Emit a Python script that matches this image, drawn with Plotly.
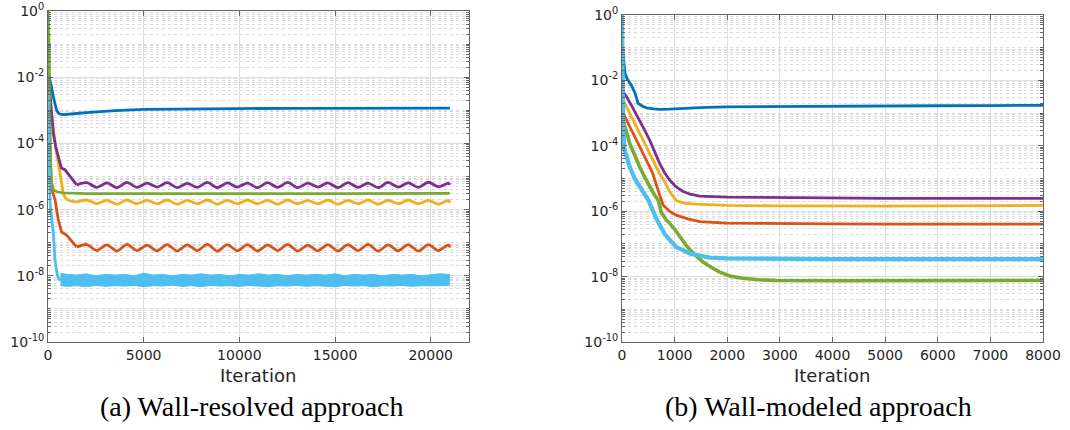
import plotly.graph_objects as go

# ---------------- colours (MATLAB default order) ----------------
C_BLUE = "#0072BD"
C_ORANGE = "#D95319"
C_YELLOW = "#EDB120"
C_PURPLE = "#7E2F8E"
C_GREEN = "#77AC30"
C_LBLUE = "#4DBEEE"

# ---------------- (a) wall-resolved data ----------------
wr_blue_x = [0, 100, 200, 280, 350, 450, 550, 650, 800, 1000, 1500, 2000, 2700, 3500, 5000,
             6500, 8000, 10000, 13000, 16000, 19000, 21000]
wr_blue_y = [1.6e-2, 9e-3, 4.5e-3, 2.5e-3, 1.6e-3, 1.0e-3, 8.2e-4, 7.6e-4, 7.4e-4, 7.5e-4, 8.0e-4,
             8.5e-4, 9.1e-4, 9.8e-4, 1.07e-3, 1.1e-3, 1.12e-3, 1.13e-3, 1.15e-3, 1.15e-3, 1.16e-3, 1.17e-3]

wr_orange_x = [0, 60, 120, 200, 365, 540, 710, 970, 1320, 1500]
wr_orange_y = [3e-3, 1e-4, 1e-5, 4e-6, 2e-6, 4.9e-7, 2.1e-7, 1.7e-7, 9.5e-8, 7.4e-8]

wr_yellow_x = [0, 50, 100, 200, 300, 400, 500, 600, 700, 800, 900, 1000, 1200, 1500]
wr_yellow_y = [5e-3, 2.5e-3, 1.5e-3, 6e-4, 2e-4, 8e-5, 3.5e-5, 1.5e-5, 6e-6, 3e-6, 2.3e-6, 2.0e-6,
               1.8e-6, 1.7e-6]

wr_purple_x = [0, 80, 150, 280, 400, 540, 700, 880, 1000, 1150, 1300, 1500]
wr_purple_y = [1.2e-2, 5e-3, 1.5e-3, 2e-4, 8e-5, 4e-5, 1.8e-5, 1.6e-5, 1.3e-5, 1e-5, 7.5e-6, 5.6e-6]

wr_green_x = [0, 60, 90, 120, 150, 200, 300, 500, 800, 2000, 5000, 10000, 15000, 21000]
wr_green_y = [1.0, 1e-1, 1e-3, 1e-4, 2e-5, 6e-6, 3.8e-6, 3.4e-6, 3.2e-6, 3.05e-6, 3.0e-6, 3.05e-6,
              3.05e-6, 3.1e-6]

wr_lblue_x = [0, 40, 80, 110, 200, 280, 365, 470, 560, 650]
wr_lblue_y = [3.3e-3, 2e-4, 1e-5, 1.5e-6, 5e-7, 1.9e-7, 3e-8, 1.2e-8, 8e-9, 7.5e-9]

# oscillating plateaus (peaks / troughs)
wr_osc_x = [1500, 2025, 2550, 3075, 3600, 4125, 4650, 5175, 5700, 6225, 6750, 7275, 7800, 8325,
            8850, 9375, 9900, 10425, 10950, 11475, 12000, 12525, 13050, 13575, 14100, 14625,
            15150, 15675, 16200, 16725, 17250, 17775, 18300, 18825, 19350, 19875, 20400, 20925,
            21000]
wr_purple_osc = [5.6e-6, 6.5e-6, 4.7e-6, 6.4e-6, 4.6e-6, 6.6e-6, 4.7e-6, 6.3e-6, 4.8e-6, 6.5e-6,
                 4.6e-6, 6.2e-6, 4.7e-6, 6.6e-6, 4.6e-6, 6.4e-6, 4.8e-6, 6.3e-6, 4.6e-6, 6.5e-6,
                 4.7e-6, 6.6e-6, 4.6e-6, 6.3e-6, 4.8e-6, 6.4e-6, 4.6e-6, 6.5e-6, 4.7e-6, 6.3e-6,
                 4.6e-6, 6.6e-6, 4.8e-6, 6.4e-6, 4.7e-6, 6.7e-6, 4.9e-6, 6.3e-6, 5.6e-6]
wr_yellow_osc = [1.7e-6, 1.95e-6, 1.5e-6, 1.9e-6, 1.45e-6, 1.95e-6, 1.5e-6, 1.9e-6, 1.5e-6, 1.95e-6,
                 1.45e-6, 1.9e-6, 1.5e-6, 1.95e-6, 1.45e-6, 1.9e-6, 1.5e-6, 1.95e-6, 1.5e-6, 1.9e-6,
                 1.45e-6, 1.95e-6, 1.5e-6, 1.9e-6, 1.5e-6, 1.95e-6, 1.45e-6, 1.9e-6, 1.5e-6, 1.95e-6,
                 1.45e-6, 1.9e-6, 1.5e-6, 1.95e-6, 1.5e-6, 1.9e-6, 1.45e-6, 1.9e-6, 1.6e-6]
wr_orange_osc = [7.4e-8, 8.8e-8, 5.8e-8, 8.6e-8, 5.6e-8, 8.9e-8, 5.8e-8, 8.5e-8, 5.7e-8, 8.8e-8,
                 5.6e-8, 8.6e-8, 5.8e-8, 8.9e-8, 5.6e-8, 8.7e-8, 5.7e-8, 8.8e-8, 5.6e-8, 8.6e-8,
                 5.8e-8, 8.9e-8, 5.6e-8, 8.5e-8, 5.7e-8, 8.8e-8, 5.6e-8, 8.7e-8, 5.8e-8, 8.9e-8,
                 5.6e-8, 8.6e-8, 5.7e-8, 8.8e-8, 5.6e-8, 8.7e-8, 5.8e-8, 8.6e-8, 7.2e-8]

# noisy light-blue plateau: upper / lower envelope
wr_band_x = [650, 1000, 1500, 2000, 2500, 3000, 3500, 4000, 4500, 5000, 5500, 6000, 6500, 7000,
             7500, 8000, 8500, 9000, 9500, 10000, 10500, 11000, 11500, 12000, 12500, 13000,
             13500, 14000, 14500, 15000, 15500, 16000, 16500, 17000, 17500, 18000, 18500, 19000,
             19500, 20000, 20500, 21000]
wr_band_hi = [1.2e-8, 1.1e-8, 1.05e-8, 1.15e-8, 1.0e-8, 1.1e-8, 1.05e-8, 1.1e-8, 1.0e-8, 1.2e-8,
              1.05e-8, 1.1e-8, 1.0e-8, 1.1e-8, 1.05e-8, 1.15e-8, 1.05e-8, 1.1e-8, 1.0e-8, 1.1e-8,
              1.05e-8, 1.15e-8, 1.05e-8, 1.1e-8, 1.0e-8, 1.1e-8, 1.05e-8, 1.1e-8, 1.05e-8, 1.15e-8,
              1.0e-8, 1.1e-8, 1.05e-8, 1.1e-8, 1.0e-8, 1.1e-8, 1.05e-8, 1.1e-8, 1.0e-8, 1.1e-8,
              1.15e-8, 1.1e-8]
wr_band_lo = [5.0e-9, 4.8e-9, 5.0e-9, 4.7e-9, 5.1e-9, 4.8e-9, 5.0e-9, 4.9e-9, 5.1e-9, 4.7e-9,
              5.0e-9, 4.9e-9, 5.2e-9, 4.8e-9, 5.0e-9, 4.7e-9, 5.1e-9, 4.9e-9, 5.0e-9, 4.8e-9,
              5.1e-9, 4.9e-9, 4.7e-9, 5.0e-9, 4.9e-9, 5.1e-9, 4.8e-9, 5.0e-9, 4.9e-9, 4.7e-9,
              5.1e-9, 4.9e-9, 5.0e-9, 4.7e-9, 5.0e-9, 4.9e-9, 5.1e-9, 4.8e-9, 5.0e-9, 4.9e-9,
              5.0e-9, 5.2e-9]

# ---------------- (b) wall-modeled data ----------------
wm_blue_x = [0, 30, 60, 100, 180, 250, 305, 400, 465, 600, 715, 900, 1200, 1600, 2000, 3000, 4000,
             5000, 6000, 7000, 8000]
wm_blue_y = [1.2e-1, 4e-2, 1.6e-2, 1.1e-2, 7e-3, 4e-3, 2e-3, 1.6e-3, 1.45e-3, 1.35e-3, 1.3e-3,
             1.32e-3, 1.4e-3, 1.5e-3, 1.55e-3, 1.6e-3, 1.65e-3, 1.66e-3, 1.68e-3, 1.7e-3, 1.73e-3]

wm_orange_x = [0, 50, 160, 275, 370, 465, 580, 685, 740, 780, 900, 1030, 1250, 1475, 1980, 3000,
               4000, 5000, 6000, 7000, 8000]
wm_orange_y = [1.2e-3, 7.9e-4, 3.5e-4, 1.5e-4, 7.5e-5, 3.7e-5, 1.5e-5, 4.4e-6, 2.3e-6, 1.55e-6,
               1.0e-6, 7.6e-7, 5.8e-7, 4.8e-7, 4.3e-7, 4.1e-7, 4.1e-7, 4.05e-7, 4.0e-7, 4.0e-7, 4.0e-7]

wm_yellow_x = [0, 50, 160, 275, 370, 465, 590, 715, 810, 905, 1030, 1200, 1400, 1660, 2000, 3000,
               4000, 5000, 6000, 7000, 8000]
wm_yellow_y = [3e-3, 2e-3, 9e-4, 3.8e-4, 1.9e-4, 9.4e-5, 3.5e-5, 1.4e-5, 8e-6, 4e-6, 2.1e-6,
               1.75e-6, 1.65e-6, 1.55e-6, 1.5e-6, 1.45e-6, 1.42e-6, 1.42e-6, 1.45e-6, 1.45e-6, 1.5e-6]

wm_purple_x = [0, 84, 200, 335, 430, 525, 620, 715, 810, 905, 1030, 1160, 1300, 1475, 2000, 3000,
               4000, 5000, 6000, 7000, 8000]
wm_purple_y = [5e-3, 3.2e-3, 1.5e-3, 6.2e-4, 3e-4, 1.5e-4, 6.5e-5, 2.9e-5, 1.5e-5, 9e-6, 5.5e-6,
               4e-6, 3.3e-6, 2.9e-6, 2.7e-6, 2.6e-6, 2.5e-6, 2.45e-6, 2.45e-6, 2.45e-6, 2.45e-6]

wm_green_x = [0, 20, 145, 240, 335, 430, 525, 610, 685, 750, 840, 905, 1000, 1095, 1220, 1350,
              1540, 1700, 1850, 2050, 2290, 2600, 2930, 4000, 5000, 6000, 7000, 8000]
wm_green_y = [1.5e-3, 6e-4, 1.2e-4, 5e-5, 2.3e-5, 1.1e-5, 5.6e-6, 3.3e-6, 2.2e-6, 9e-7, 5.4e-7,
              4.3e-7, 2.8e-7, 1.7e-7, 9e-8, 5.2e-8, 2.8e-8, 1.9e-8, 1.4e-8, 1.05e-8, 8.9e-9, 8e-9,
              7.6e-9, 7.5e-9, 7.5e-9, 7.6e-9, 7.5e-9, 7.6e-9]

wm_lblue_x = [0, 15, 25, 50, 145, 240, 335, 420, 500, 580, 650, 810, 1030, 1300, 1660, 2000, 2500,
              3000, 4000, 5000, 6000, 7000, 8000]
wm_lblue_y = [1.0, 1e-2, 2.5e-4, 7.4e-5, 2.3e-5, 1e-5, 5.6e-6, 3.5e-6, 2.2e-6, 1.1e-6, 6e-7, 2e-7,
              8e-8, 5e-8, 3.8e-8, 3.6e-8, 3.5e-8, 3.4e-8, 3.4e-8, 3.4e-8, 3.4e-8, 3.4e-8, 3.4e-8]

# ---------------- tick labels ----------------
y_tick_vals = [1e0, 1e-2, 1e-4, 1e-6, 1e-8, 1e-10]
y_tick_text = ["10<sup>0</sup>", "10<sup>-2</sup>", "10<sup>-4</sup>", "10<sup>-6</sup>",
               "10<sup>-8</sup>", "10<sup>-10</sup>"]
x_ticks_a = [0, 5000, 10000, 15000, 20000]
x_text_a = ["0", "5000", "10000", "15000", "20000"]
x_ticks_b = [0, 1000, 2000, 3000, 4000, 5000, 6000, 7000, 8000]
x_text_b = ["0", "1000", "2000", "3000", "4000", "5000", "6000", "7000", "8000"]
caption_a = "(a) Wall-resolved approach"
caption_b = "(b) Wall-modeled approach"
x_title = "Iteration"

y_minor_vals = []
for e in range(-10, 0):
    for m in range(1, 10):
        if m == 1 and e % 2 == 0:
            continue
        y_minor_vals.append(m * 10.0 ** e)

W, H = 1070, 430
LW = 2.8

fig = go.Figure()


def line(x, y, color, xa, ya, width=LW, shape="linear"):
    fig.add_trace(go.Scatter(x=x, y=y, mode="lines", xaxis=xa, yaxis=ya,
                             line=dict(color=color, width=width, shape=shape, smoothing=0.8),
                             hoverinfo="skip", showlegend=False))


# panel (a)
line(wr_blue_x, wr_blue_y, C_BLUE, "x", "y")
line(wr_orange_x, wr_orange_y, C_ORANGE, "x", "y")
line(wr_osc_x, wr_orange_osc, C_ORANGE, "x", "y", shape="spline")
line(wr_yellow_x, wr_yellow_y, C_YELLOW, "x", "y")
line(wr_osc_x, wr_yellow_osc, C_YELLOW, "x", "y", shape="spline")
line(wr_purple_x, wr_purple_y, C_PURPLE, "x", "y")
line(wr_osc_x, wr_purple_osc, C_PURPLE, "x", "y", shape="spline")
line(wr_green_x, wr_green_y, C_GREEN, "x", "y")
line(wr_lblue_x, wr_lblue_y, C_LBLUE, "x", "y")
fig.add_trace(go.Scatter(x=wr_band_x, y=wr_band_lo, mode="lines", xaxis="x", yaxis="y",
                         line=dict(color=C_LBLUE, width=1), hoverinfo="skip", showlegend=False))
fig.add_trace(go.Scatter(x=wr_band_x, y=wr_band_hi, mode="lines", xaxis="x", yaxis="y",
                         fill="tonexty", fillcolor=C_LBLUE,
                         line=dict(color=C_LBLUE, width=1), hoverinfo="skip", showlegend=False))

# panel (b)
line(wm_blue_x, wm_blue_y, C_BLUE, "x2", "y2")
line(wm_orange_x, wm_orange_y, C_ORANGE, "x2", "y2")
line(wm_yellow_x, wm_yellow_y, C_YELLOW, "x2", "y2")
line(wm_purple_x, wm_purple_y, C_PURPLE, "x2", "y2")
line(wm_green_x, wm_green_y, C_GREEN, "x2", "y2", width=3.6)
line(wm_lblue_x, wm_lblue_y, C_LBLUE, "x2", "y2", width=4.2)

AX = "#666666"
GRID = "#dedede"
MGRID = "#dadada"
TXT = "#262626"
tickfont = dict(family="DejaVu Sans", size=14, color=TXT)


def xax(domain, rng, ticks, text, anchor):
    return dict(domain=domain, range=rng, tickvals=ticks, ticktext=text, ticks="inside",
                ticklen=5, tickcolor=AX, showline=True, linecolor=AX, linewidth=1,
                mirror="ticks", showgrid=True, gridcolor=GRID, gridwidth=1, zeroline=False,
                tickfont=tickfont, anchor=anchor, automargin=False)


def yax(domain, anchor):
    return dict(domain=domain, type="log", range=[-10, 0], tickvals=y_tick_vals,
                ticktext=y_tick_text, ticks="inside", ticklen=5, tickcolor=AX,
                showline=True, linecolor=AX, linewidth=1, mirror="ticks",
                showgrid=True, gridcolor=GRID, gridwidth=1, zeroline=False,
                tickfont=tickfont, anchor=anchor, automargin=False,
                minor=dict(tickmode="array", tickvals=y_minor_vals, ticks="inside",
                           ticklen=3, tickcolor=AX, showgrid=True, gridcolor=MGRID,
                           griddash="dot", gridwidth=1))


fig.update_layout(
    width=W, height=H,
    margin=dict(l=0, r=0, t=0, b=0),
    paper_bgcolor="white", plot_bgcolor="white",
    xaxis=xax([48 / W, 469 / W], [0, 22000], x_ticks_a, x_text_a, "y"),
    yaxis=yax([1 - 342 / H, 1 - 11 / H], "x"),
    xaxis2=xax([622 / W, 1043 / W], [0, 8000], x_ticks_b, x_text_b, "y2"),
    yaxis2=yax([1 - 342 / H, 1 - 15 / H], "x2"),
    annotations=[
        dict(text=x_title, x=258 / W, y=1 - 375 / H, xref="paper", yref="paper",
             showarrow=False, xanchor="center", yanchor="middle",
             font=dict(family="DejaVu Sans", size=18, color=TXT)),
        dict(text=x_title, x=832 / W, y=1 - 375 / H, xref="paper", yref="paper",
             showarrow=False, xanchor="center", yanchor="middle",
             font=dict(family="DejaVu Sans", size=18, color=TXT)),
        dict(text=caption_a, x=252 / W, y=1 - 406 / H, xref="paper", yref="paper",
             showarrow=False, xanchor="center", yanchor="middle",
             font=dict(family="Liberation Serif", size=28, color="black")),
        dict(text=caption_b, x=818 / W, y=1 - 406 / H, xref="paper", yref="paper",
             showarrow=False, xanchor="center", yanchor="middle",
             font=dict(family="Liberation Serif", size=28, color="black")),
    ],
)

fig.write_html("out.html", config={"displayModeBar": False},
               post_script="document.body.style.margin='0px';")
